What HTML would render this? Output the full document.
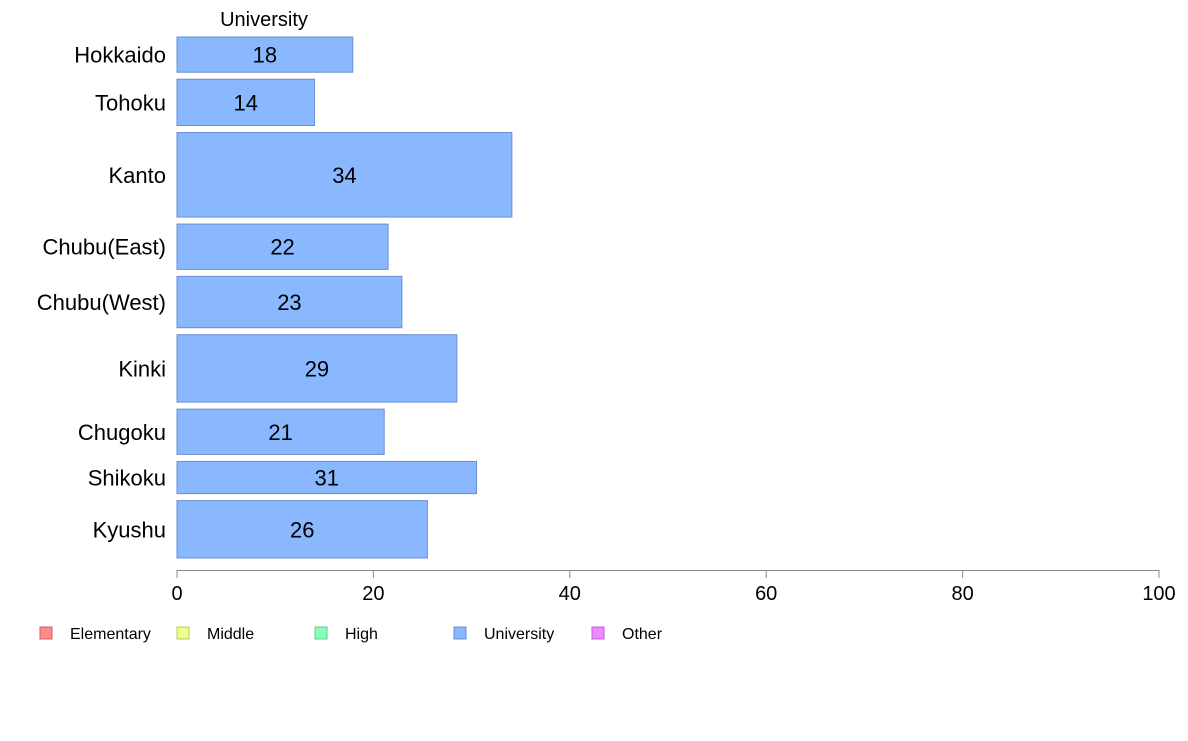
<!DOCTYPE html>
<html><head><meta charset="utf-8">
<style>
body{margin:0;background:#fff;width:1188px;height:736px;overflow:hidden;font-family:"Liberation Sans",sans-serif}
</style></head><body>
<svg id="chart" width="1188" height="736" xmlns="http://www.w3.org/2000/svg" font-family="Liberation Sans, sans-serif">
<text x="264" y="26" font-size="20" text-anchor="middle">University</text>
<g id="bars"></g>
<g id="axis"></g>
<g id="legend"></g>
</svg>
<script>
const categories=["Hokkaido","Tohoku","Kanto","Chubu(East)","Chubu(West)","Kinki","Chugoku","Shikoku","Kyushu"];
const values=[17.9,14.0,34.1,21.5,22.9,28.5,21.1,30.5,25.5];
const weights=[35,46,84,45,51,67,45,32,57];
const ticks=[0,20,40,60,80,100];
const legendLabels=["Elementary","Middle","High","University","Other"];
const legendColors=["#ff8a8a","#eeff8a","#8affb8","#8ab8ff","#ee8aff"];
const legendStroke=["#d06060","#b8c860","#60c890","#6a8fd0","#c060d0"];
const NS="http://www.w3.org/2000/svg";
const x0=177,x1=1159,yTop=37,yBot=558,gap=7;
const xs=v=>x0+(v/100)*(x1-x0);
const totalW=weights.reduce((a,b)=>a+b,0);
const unit=(yBot-yTop-gap*(weights.length-1))/totalW;
function mk(t,a,p){const e=document.createElementNS(NS,t);for(const k in a)e.setAttribute(k,a[k]);p.appendChild(e);return e;}
const bars=document.getElementById('bars');
let y=yTop;
categories.forEach((c,i)=>{
 const h=weights[i]*unit;
 const r=mk('rect',{x:x0,y:y,width:xs(values[i])-x0,height:h,fill:"#8ab8ff",stroke:"#6a8fd0","stroke-width":1},bars);
 
 
 const t=mk('text',{x:(x0+xs(values[i]))/2,y:y+h/2+8,"font-size":22,"text-anchor":"middle",fill:"#000"},bars);
 t.textContent=Math.round(values[i]);
 
 
 const l=mk('text',{x:166,y:y+h/2+8,"font-size":22,"text-anchor":"end",fill:"#000"},bars);
 l.textContent=c;
 
 
 y+=h+gap;
});
const ax=document.getElementById('axis');
const al=mk('line',{x1:x0,x2:x1,y1:570.5,y2:570.5,stroke:"#888"},ax);


ticks.forEach(v=>{
 const tl=mk('line',{x1:xs(v),x2:xs(v),y1:570,y2:578,stroke:"#888"},ax);
 
 
 const tt=mk('text',{x:xs(v),y:600,"font-size":20,"text-anchor":"middle"},ax);
 tt.textContent=v;
 
 
});
const lg=document.getElementById('legend');
const lx=[40,177,315,454,592];
legendLabels.forEach((n,i)=>{
 const r=mk('rect',{x:lx[i],y:627,width:12,height:12,fill:legendColors[i],stroke:legendStroke[i]},lg);
 
 
 const t=mk('text',{x:lx[i]+30,y:639,"font-size":16},lg);
 t.textContent=n;
 
 
});
</script>
</body></html>
